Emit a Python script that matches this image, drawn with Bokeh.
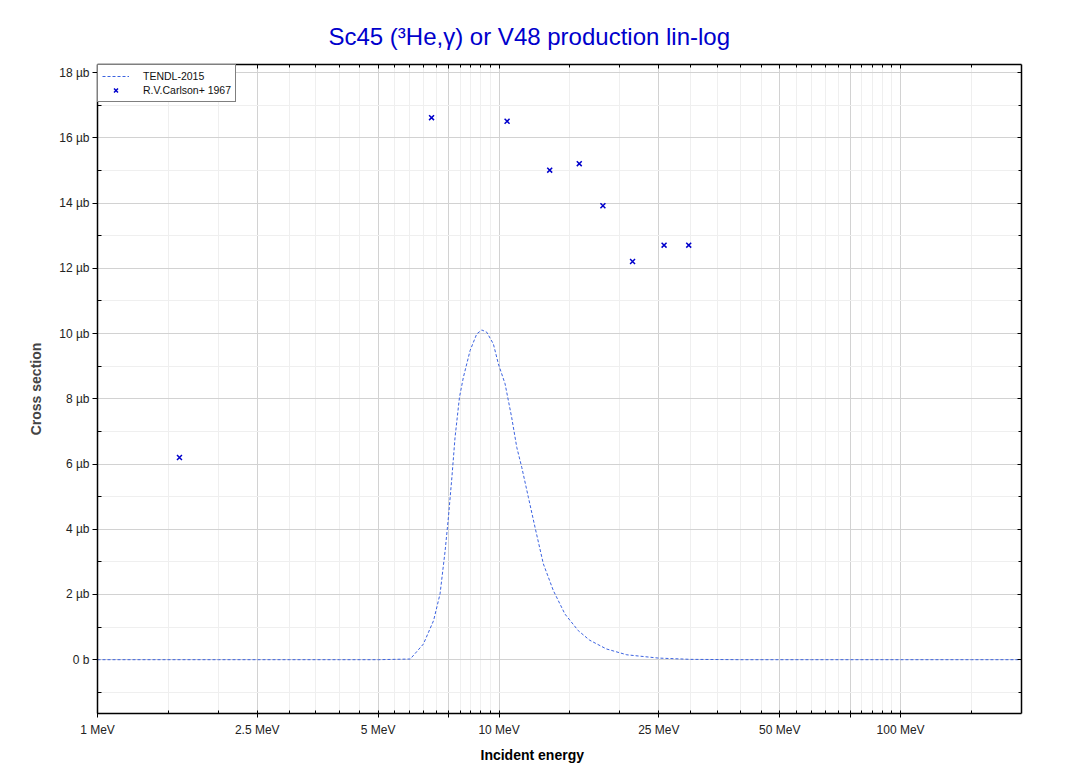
from bokeh.plotting import figure
from bokeh.models import (FixedTicker, LogAxis, LinearAxis, Legend, LegendItem,
                          Title, Range1d)
from bokeh.embed import file_html
from bokeh.resources import INLINE

# ---- data (MeV, microbarn) ----
tendl_e = [1.0, 2.0, 3.0, 4.0, 5.0, 6.01, 6.48, 6.87, 7.13, 7.34, 7.48, 7.63, 7.77,
           7.97, 8.15, 8.47, 8.80, 9.06, 9.32, 9.68, 9.96, 10.35, 10.75, 11.07,
           11.39, 11.83, 12.29, 12.89, 13.65, 14.59, 15.75, 16.8, 18.5, 20.8,
           24.9, 30.0, 40.0, 60.0, 100.0, 150.0, 200.0]
tendl_xs = [0.0, 0.0, 0.0, 0.0, 0.0, 0.02, 0.48, 1.20, 2.02, 3.34, 4.37, 5.59, 6.82,
            8.05, 8.66, 9.48, 9.99, 10.11, 10.04, 9.68, 9.07, 8.46, 7.43, 6.51,
            5.90, 4.98, 4.06, 2.94, 2.12, 1.40, 0.89, 0.60, 0.33, 0.15,
            0.05, 0.01, 0.0, 0.0, 0.0, 0.0, 0.0]

exp_e = [1.60, 6.79, 10.47, 13.37, 15.84, 18.14, 21.5, 25.76, 29.67]
exp_xs = [6.20, 16.62, 16.51, 15.01, 15.21, 13.92, 12.21, 12.71, 12.71]

x_major = [1, 2.5, 5, 7.5, 10, 25, 50, 75, 100]
x_major_labels = ["1 MeV", "2.5 MeV", "5 MeV", "", "10 MeV", "25 MeV", "50 MeV", "", "100 MeV"]
x_minor = [1.5, 2, 3, 3.5, 4, 4.5, 5.5, 6, 6.5, 7, 8, 8.5, 9, 9.5, 15, 20, 30, 35,
           40, 45, 55, 60, 65, 70, 80, 85, 90, 95, 150]
y_major = [0, 2, 4, 6, 8, 10, 12, 14, 16, 18]
y_major_labels = ["0 b", "2 µb", "4 µb", "6 µb", "8 µb", "10 µb", "12 µb", "14 µb", "16 µb", "18 µb"]
y_minor = [-1, 1, 3, 5, 7, 9, 11, 13, 15, 17]

FONT = "Liberation Sans"

p = figure(width=1058, height=768, x_axis_type="log",
           x_range=Range1d(1, 200), y_range=Range1d(-1.65, 18.25),
           output_backend="svg", toolbar_location=None,
           min_border_left=97, min_border_right=37, min_border_top=64,
           min_border_bottom=55)
p.background_fill_color = "white"
p.border_fill_color = "white"
p.outline_line_color = None

p.title.text = "Sc45 (³He,γ) or V48 production lin-log"
p.title.align = "left"
p.title.offset = 231
p.title.standoff = 29
p.title.text_font = FONT
p.title.text_font_size = "24px"
p.title.text_font_style = "normal"
p.title.text_color = "#0000cc"

xt = FixedTicker(ticks=x_major, minor_ticks=x_minor)
yt = FixedTicker(ticks=y_major, minor_ticks=y_minor)
xlab = {v: l for v, l in zip(x_major, x_major_labels)}
ylab = {v: l for v, l in zip(y_major, y_major_labels)}

def style_axis(ax):
    ax.axis_line_color = "black"
    ax.axis_line_width = 1.5
    ax.major_tick_line_color = "black"
    ax.minor_tick_line_color = "black"
    ax.major_label_text_font = FONT
    ax.major_label_text_font_size = "12px"
    ax.major_label_text_color = "#222222"

xa = p.xaxis[0]
xa.ticker = xt
xa.major_label_overrides = xlab
style_axis(xa)
xa.major_tick_in = 3
xa.major_tick_out = 4
xa.minor_tick_in = 3
xa.minor_tick_out = 0
xa.major_label_standoff = 5

ya = p.yaxis[0]
ya.ticker = yt
ya.major_label_overrides = ylab
style_axis(ya)
ya.major_tick_in = 0
ya.major_tick_out = 5
ya.minor_tick_in = 4
ya.minor_tick_out = 0
ya.major_label_standoff = 3
ya.axis_label = "Cross section"
ya.axis_label_text_font = FONT
ya.axis_label_text_font_size = "14px"
ya.axis_label_text_font_style = "bold"
ya.axis_label_standoff = 12

top = LogAxis(ticker=xt, major_label_overrides={v: "" for v in x_major})
style_axis(top)
top.major_tick_in = 4
top.major_tick_out = 0
top.minor_tick_in = 3
top.minor_tick_out = 0
top.major_label_standoff = 0
p.add_layout(top, "above")

right = LinearAxis(ticker=yt, major_label_overrides={v: "" for v in y_major})
style_axis(right)
right.major_tick_in = 4
right.major_tick_out = 0
right.minor_tick_in = 3
right.minor_tick_out = 0
right.major_label_standoff = 0
p.add_layout(right, "right")

p.xgrid.ticker = xt
p.ygrid.ticker = yt
for g in (p.xgrid[0], p.ygrid[0]):
    g.grid_line_color = "#d2d2d2"
    g.grid_line_width = 1
    g.minor_grid_line_color = "#efefef"
    g.minor_grid_line_width = 1

r_line = p.line(tendl_e, tendl_xs, line_color="#3b62e0", line_width=1,
                line_dash="3 2")
r_pts = p.scatter(exp_e, exp_xs, marker="x", size=7, line_width=1.5,
                  line_color="#0000cc")

legend = Legend(items=[LegendItem(label="TENDL-2015", renderers=[r_line]),
                       LegendItem(label="R.V.Carlson+ 1967", renderers=[r_pts])],
                location="top_left", margin=0, padding=4, spacing=0,
                glyph_width=27, glyph_height=14, label_height=14,
                label_standoff=14, label_text_font=FONT,
                label_text_font_size="10.5px", label_text_color="#111111",
                border_line_color="black", border_line_width=1,
                background_fill_color="white", background_fill_alpha=1)
p.add_layout(legend)

xlabel = Title(text="Incident energy", align="left", offset=383,
               text_font=FONT, text_font_size="14px", text_font_style="bold",
               text_color="black", standoff=10)
p.add_layout(xlabel, "below")

open("out.html", "w").write(file_html(p, INLINE))
